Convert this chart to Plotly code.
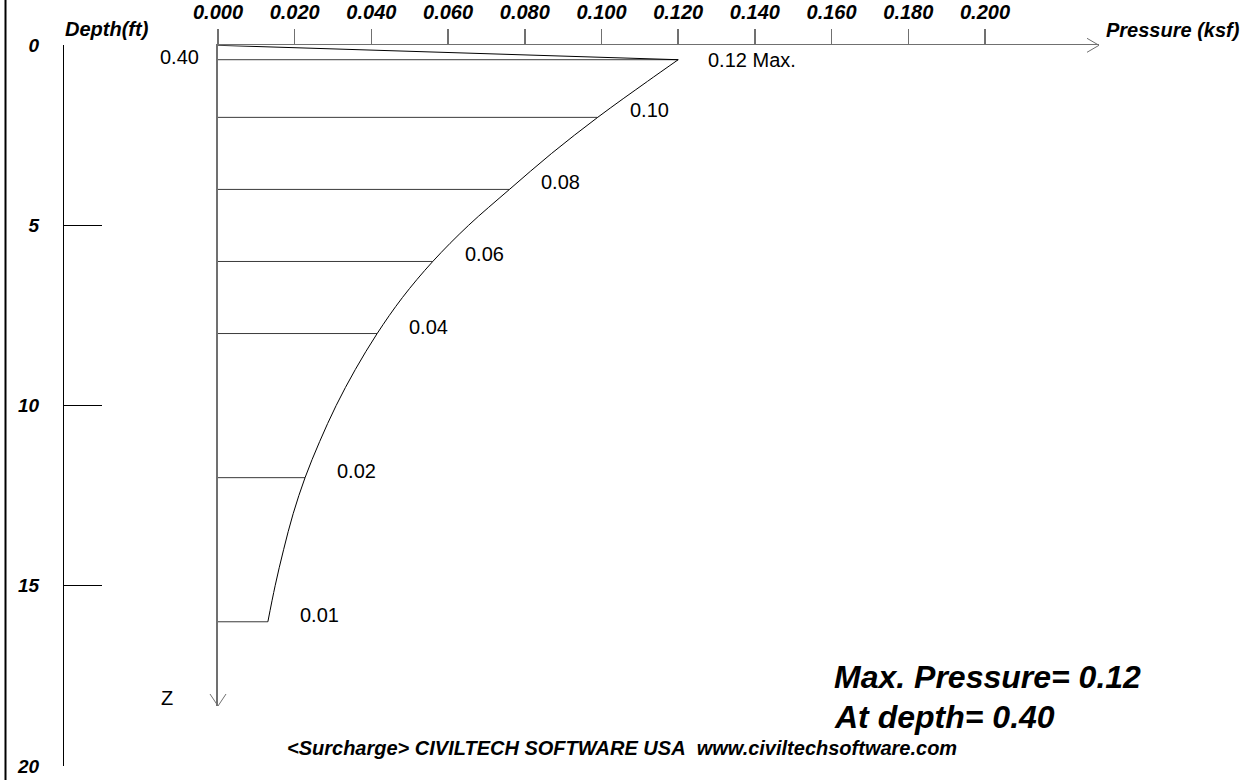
import plotly.graph_objects as go

# ---------------- data ----------------
depth_ft = [0.4, 1, 2, 3, 4, 5, 6, 7, 8, 9, 10, 11, 12, 13, 14, 15, 16]
pressure_ksf = [0.120, 0.112, 0.099, 0.087, 0.076, 0.0653, 0.056, 0.0481, 0.0415,
                0.0358, 0.0308, 0.0265, 0.0227, 0.0196, 0.0171, 0.0149, 0.0130]
marked_depths = [0.4, 2, 4, 6, 8, 12, 16]
pressure_ticks = [0.000, 0.020, 0.040, 0.060, 0.080, 0.100, 0.120, 0.140, 0.160, 0.180, 0.200]
pressure_tick_text = ["0.000", "0.020", "0.040", "0.060", "0.080", "0.100",
                      "0.120", "0.140", "0.160", "0.180", "0.200"]
depth_ticks = [0, 5, 10, 15, 20]
footer_text = "&lt;Surcharge&gt; CIVILTECH SOFTWARE USA&nbsp;&nbsp;www.civiltechsoftware.com"

# ---------------- layout geometry ----------------
W, H = 1248, 780
X0 = 218.0          # pixel of pressure 0
X_END = 1099.0      # pixel where pressure axis ends (arrow tip)
PX_PER_KSF = 3835.0
Y0 = 45.3           # pixel of depth 0
Z_END = 706.0       # pixel where Z axis ends (arrow tip)
PX_PER_FT = 36.03
DEPTH_AXIS_X = 63.0

FONT = "Arial, 'Liberation Sans', sans-serif"
AXIS_GRAY = "#707070"


def px(xp):
    return xp / W


def py(yp):
    return 1 - yp / H


p_of = dict(zip(depth_ft, pressure_ksf))
pmax = max(pressure_ksf)
dmax = depth_ft[pressure_ksf.index(pmax)]

fig = go.Figure()

# invisible trace to carry the depth scale axis (added first so it sits underneath)
fig.add_trace(go.Scatter(x=[0], y=[0], xaxis="x", yaxis="y2", mode="markers",
                         marker=dict(opacity=0), hoverinfo="skip", showlegend=False))

# horizontal lines at labelled depths
hx, hy = [], []
for d in marked_depths:
    hx += [0, p_of[d], None]
    hy += [d, d, None]
fig.add_trace(go.Scatter(x=hx, y=hy, mode="lines", line=dict(color="#3a3a3a", width=1),
                         hoverinfo="skip", showlegend=False))

# top line from surface to maximum
fig.add_trace(go.Scatter(x=[0, pmax], y=[0, dmax], mode="lines",
                         line=dict(color="black", width=1), hoverinfo="skip", showlegend=False))

# pressure profile
fig.add_trace(go.Scatter(x=pressure_ksf, y=depth_ft, mode="lines",
                         line=dict(color="black", width=1, shape="spline", smoothing=1.0),
                         hoverinfo="skip", showlegend=False))

LABEL_SIZE = 20
annotations = []
for d in marked_depths:
    p = p_of[d]
    if d == dmax:
        annotations.append(dict(x=p, y=d, xref="x", yref="y", text=f"{p:.2f} Max.",
                                showarrow=False, xanchor="left", yanchor="middle",
                                xshift=28, yshift=0,
                                font=dict(size=LABEL_SIZE, color="black", family=FONT)))
        annotations.append(dict(x=0, y=d, xref="x", yref="y", text=f"{d:.2f}",
                                showarrow=False, xanchor="right", yanchor="middle",
                                xshift=-17, yshift=3,
                                font=dict(size=LABEL_SIZE, color="black", family=FONT)))
    else:
        annotations.append(dict(x=p, y=d, xref="x", yref="y", text=f"{p:.2f}",
                                showarrow=False, xanchor="left", yanchor="middle",
                                xshift=30, yshift=7,
                                font=dict(size=LABEL_SIZE, color="black", family=FONT)))

bi = dict(family=FONT, color="black", weight="bold", style="italic")
annotations += [
    dict(x=px(107), y=py(29), xref="paper", yref="paper", text="Depth(ft)", showarrow=False,
         xanchor="center", yanchor="middle", font=dict(size=20, **bi)),
    dict(x=px(1242), y=py(30), xref="paper", yref="paper", text="Pressure (ksf)", showarrow=False,
         xanchor="right", yanchor="middle", font=dict(size=20, **bi)),
    dict(x=px(167), y=py(698), xref="paper", yref="paper", text="Z", showarrow=False,
         xanchor="center", yanchor="middle", font=dict(size=LABEL_SIZE, color="black", family=FONT)),
    dict(x=px(832), y=py(677), xref="paper", yref="paper", text=f"Max. Pressure= {pmax:.2f}",
         showarrow=False, xanchor="left", yanchor="middle", font=dict(size=32, **bi)),
    dict(x=px(832), y=py(717), xref="paper", yref="paper", text=f"At depth= {dmax:.2f}",
         showarrow=False, xanchor="left", yanchor="middle", font=dict(size=32, **bi)),
    dict(x=px(622), y=py(748), xref="paper", yref="paper", text=footer_text,
         showarrow=False, xanchor="center", yanchor="middle", font=dict(size=20, **bi)),
]

shapes = [
    # left frame line
    dict(type="line", xref="paper", yref="paper", x0=px(5.5), x1=px(5.5), y0=0, y1=1,
         line=dict(color="black", width=2)),
    # arrow head on pressure axis
    dict(type="path", xref="paper", yref="paper",
         path=f"M {px(X_END-12)},{py(Y0-7)} L {px(X_END)},{py(Y0)} L {px(X_END-12)},{py(Y0+7)}",
         line=dict(color=AXIS_GRAY, width=1)),
    # arrow head on Z axis
    dict(type="path", xref="paper", yref="paper",
         path=f"M {px(X0-8)},{py(Z_END-12)} L {px(X0)},{py(Z_END)} L {px(X0+8)},{py(Z_END-12)}",
         line=dict(color=AXIS_GRAY, width=1)),
]

fig.update_layout(
    template="none",
    width=W, height=H, autosize=False,
    margin=dict(l=0, r=0, t=0, b=0, pad=0),
    paper_bgcolor="white", plot_bgcolor="rgba(0,0,0,0)",
    showlegend=False,
    font=dict(family=FONT, color="black"),
    xaxis=dict(
        domain=[X0 / W, X_END / W],
        range=[0, (X_END - X0) / PX_PER_KSF],
        side="top", anchor="y", automargin=False,
        showgrid=False, zeroline=False,
        showline=True, linecolor=AXIS_GRAY, linewidth=1.5,
        ticks="outside", ticklen=15, tickcolor=AXIS_GRAY, tickwidth=1.5,
        tickvals=pressure_ticks, ticktext=pressure_tick_text,
        tickfont=dict(size=20, **bi), ticklabelstandoff=2,
    ),
    yaxis=dict(
        domain=[py(Z_END), py(Y0)],
        range=[(Z_END - Y0) / PX_PER_FT, 0],
        anchor="x", automargin=False,
        showgrid=False, zeroline=False,
        showline=True, linecolor=AXIS_GRAY, linewidth=2,
        ticks="", showticklabels=False,
    ),
    yaxis2=dict(
        domain=[py(Y0 + 20 * PX_PER_FT), py(Y0)],
        range=[20, 0],
        anchor="free", position=DEPTH_AXIS_X / W, side="left", automargin=False,
        showgrid=False, zeroline=False,
        showline=True, linecolor="black", linewidth=1,
        ticks="inside", ticklen=38, tickcolor="black", tickwidth=1,
        tickvals=depth_ticks, ticktext=[str(t) for t in depth_ticks],
        tickfont=dict(size=19, **bi), ticklabelstandoff=20,
    ),
    annotations=annotations,
    shapes=shapes,
)

fig.write_html("out.html",
               config={"displayModeBar": False, "staticPlot": True},
               post_script="document.body.style.margin='0';document.body.style.overflow='hidden';")
